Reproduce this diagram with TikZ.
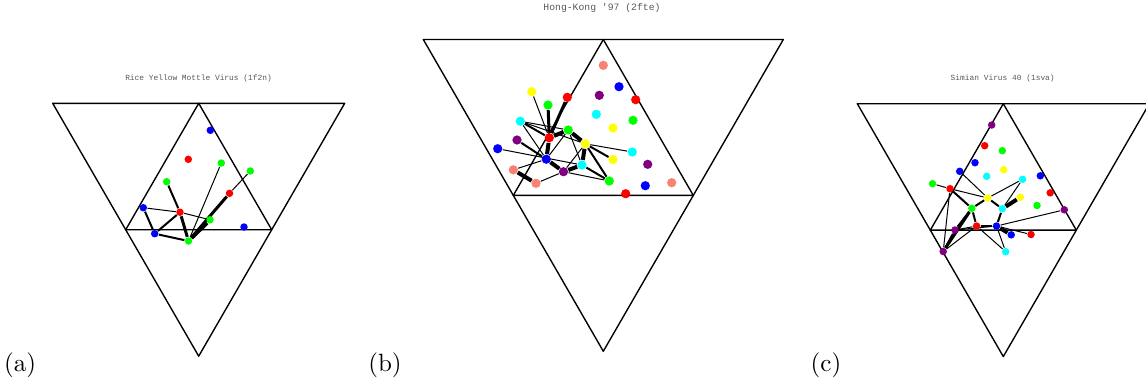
\documentclass[tikz,border=0pt]{standalone}
\usepackage{fontspec}
\setmonofont{Liberation Mono}
\usetikzlibrary{backgrounds}
\definecolor{cRed}{RGB}{255,0,0}
\definecolor{cBlue}{RGB}{0,0,255}
\definecolor{cGreen}{RGB}{0,255,0}
\definecolor{cCyan}{RGB}{0,255,255}
\definecolor{cYellow}{RGB}{255,255,0}
\definecolor{cPurple}{RGB}{128,0,128}
\definecolor{cSalmon}{RGB}{250,128,114}

\begin{document}
\begin{tikzpicture}[x=0.4pt, y=-0.4pt,
    dot/.style={circle, inner sep=0pt, minimum size=3.0pt},
    bigdot/.style={circle, inner sep=0pt, minimum size=3.7pt},
    frame/.style={line width=0.55pt, line join=round},
    e1/.style={line width=0.4pt},
    e2/.style={line width=0.8pt},
    e3/.style={line width=1.2pt},
    e4/.style={line width=1.6pt},
    title/.style={text=black!65, inner sep=0pt}]
  \useasboundingbox (0,0) rectangle (1146,383);
  \clip (0,0) rectangle (1146,383);

  % outer triangles with their medial triangles
  \foreach \p/\cx/\ty/\w in {a/198.7/103.3/292, b/603.3/39.5/360, c/1003.3/103.7/292} {
    \coordinate (\p-tl) at (\cx-\w/2,\ty);
    \coordinate (\p-tr) at (\cx+\w/2,\ty);
    \coordinate (\p-bt) at (\cx,\ty+0.866*\w);
    \coordinate (\p-mt) at (\cx,\ty);
    \coordinate (\p-ml) at (\cx-\w/4,\ty+0.433*\w);
    \coordinate (\p-mr) at (\cx+\w/4,\ty+0.433*\w);
    \draw[frame] (\p-tl) -- (\p-tr) -- (\p-bt) -- cycle;
    \draw[frame] (\p-mt) -- (\p-ml) -- (\p-mr) -- cycle;
  }

  % titles
  \node[title, font=\fontsize{3.15}{4}\selectfont\ttfamily] (a-title) at (198.5,78) {Rice Yellow Mottle Virus (1f2n)};
  \node[title, font=\fontsize{3.9}{5}\selectfont\ttfamily] (b-title) at (602,8) {Hong-Kong '97 (2fte)};
  \node[title, font=\fontsize{3.15}{4}\selectfont\ttfamily] (c-title) at (1002.7,78) {Simian Virus 40 (1sva)};

  % (a) residues
  \foreach \n/\c/\x/\y in {a-b1/cBlue/210.3/130.3, a-r1/cRed/188.3/159.3,
      a-g1/cGreen/221.3/163, a-g2/cGreen/250.3/171, a-g3/cGreen/166.7/181.7,
      a-r2/cRed/229.5/193.3, a-b2/cBlue/143.3/207.7, a-r3/cRed/180/212.2,
      a-g4/cGreen/210/219.8, a-b3/cBlue/244/227, a-b4/cBlue/154.7/233.7,
      a-g5/cGreen/188.5/241} {
    \node[dot, fill=\c] (\n) at (\x,\y) {};
  }
  % (b) residues
  \foreach \n/\c/\x/\y in {b-s1/cSalmon/603.3/65.3, b-b1/cBlue/619/86.7,
      b-p1/cPurple/599.3/95.3, b-r1/cRed/635.7/99.7, b-y1/cYellow/531.7/91.7,
      b-r2/cRed/567.3/97.3, b-g1/cGreen/548/105, b-c1/cCyan/596.3/114.3,
      b-g2/cGreen/633/120.3, b-c2/cCyan/520.3/121.2, b-y2/cYellow/613/128,
      b-g3/cGreen/568.3/130, b-r3/cRed/549.3/137.8, b-p2/cPurple/517/140,
      b-y3/cYellow/585.3/143.8, b-b2/cBlue/497.7/148.7, b-c3/cCyan/632.3/152,
      b-b3/cBlue/546.3/159.2, b-y4/cYellow/613/159.5, b-p3/cPurple/647.7/164.3,
      b-c4/cCyan/582/165, b-s2/cSalmon/513.3/169.8, b-p4/cPurple/563.5/171.7,
      b-g4/cGreen/609.3/181, b-s3/cSalmon/536/183.3, b-b4/cBlue/645.3/185.7,
      b-s4/cSalmon/671.7/182.7, b-r4/cRed/625.7/193.7} {
    \node[bigdot, fill=\c] (\n) at (\x,\y) {};
  }
  % (c) residues
  \foreach \n/\c/\x/\y in {c-p1/cPurple/991.7/125, c-r1/cRed/984.7/145.7,
      c-g1/cGreen/1002.3/150.7, c-b1/cBlue/975/162.7, c-y1/cYellow/1003.7/169.7,
      c-b2/cBlue/959.7/171.3, c-c1/cCyan/986.7/176.3, c-c2/cCyan/1022.5/179.3,
      c-b3/cBlue/1040.3/175.8, c-g2/cGreen/932.5/183.7, c-r2/cRed/950/188.7,
      c-r3/cRed/1050.2/192.8, c-y2/cYellow/1020.3/197.2, c-y3/cYellow/987.7/198,
      c-g3/cGreen/1037/205.5, c-g4/cGreen/971.8/208.3, c-c3/cCyan/1002.3/208.8,
      c-p2/cPurple/1064.3/209.8, c-r4/cRed/976.6/226, c-b4/cBlue/996.5/226,
      c-p3/cPurple/955/230, c-b5/cBlue/1011.2/234.8, c-r5/cRed/1031/234.5,
      c-p4/cPurple/943.2/251.5, c-c4/cCyan/1005.7/251.7} {
    \node[dot, fill=\c] (\n) at (\x,\y) {};
  }

  % contacts, under the residues
  \begin{scope}[on background layer]
    \foreach \u/\v/\s in {a-g3/a-r3/e2, a-b2/a-r3/e1, a-r3/a-g4/e1, a-b2/a-b4/e2,
        a-b4/a-r3/e2, a-r3/a-g5/e3, a-b4/a-g5/e2, a-g5/a-g1/e1, a-g5/a-g4/e4,
        a-g5/a-r2/e3, a-r2/a-g2/e1} {
      \draw[\s] (\u) -- (\v);
    }
    \foreach \u/\v/\s in {b-y1/b-r3/e1, b-g1/b-r3/e3, b-r2/b-r3/e3, b-c2/b-r3/e2,
        b-c2/b-g3/e1, b-c2/b-b3/e1, b-c2/b-y3/e1, b-r3/b-g3/e4, b-g3/b-y3/e4,
        b-r3/b-b3/e4, b-p2/b-b3/e2, b-b2/b-c4/e1, b-y3/b-c3/e1, b-y3/b-y4/e2,
        b-y3/b-c4/e4, b-y3/b-g4/e2, b-y3/b-p4/e1, b-b3/b-p4/e4, b-p4/b-c4/e4,
        b-s2/b-s3/e4, b-s2/b-b3/e1, b-s3/b-p4/e1, b-c4/b-g4/e2, b-p4/b-g4/e1,
        b-g3/b-b3/e1, b-g3/b-c4/e1} {
      \draw[\s] (\u) -- (\v);
    }
    \foreach \u/\v/\s in {c-g2/c-r2/e1, c-r2/c-y3/e1, c-r2/c-g4/e2, c-r2/c-p4/e1,
        c-b2/c-y3/e1, c-y3/c-c2/e1, c-y3/c-g4/e2, c-y3/c-c3/e2, c-c2/c-c3/e1,
        c-y2/c-c3/e4, c-c3/c-b4/e2, c-g4/c-r4/e2, c-r4/c-b4/e2, c-b4/c-b5/e4,
        c-b4/c-r5/e1, c-b4/c-p2/e1, c-b4/c-c4/e1, c-r4/c-c4/e1, c-p3/c-r4/e1,
        c-p3/c-b4/e1, c-p4/c-p3/e2, c-p4/c-g4/e3, c-g4/c-p3/e2, c-p4/c-r4/e1} {
      \draw[\s] (\u) -- (\v);
    }
  \end{scope}

  % sub-figure labels
  \node[anchor=base] (a-lbl) at (20,371) {(a)};
  \node[anchor=base] (b-lbl) at (385,371) {(b)};
  \node[anchor=base] (c-lbl) at (826,371) {(c)};
\end{tikzpicture}
\end{document}
